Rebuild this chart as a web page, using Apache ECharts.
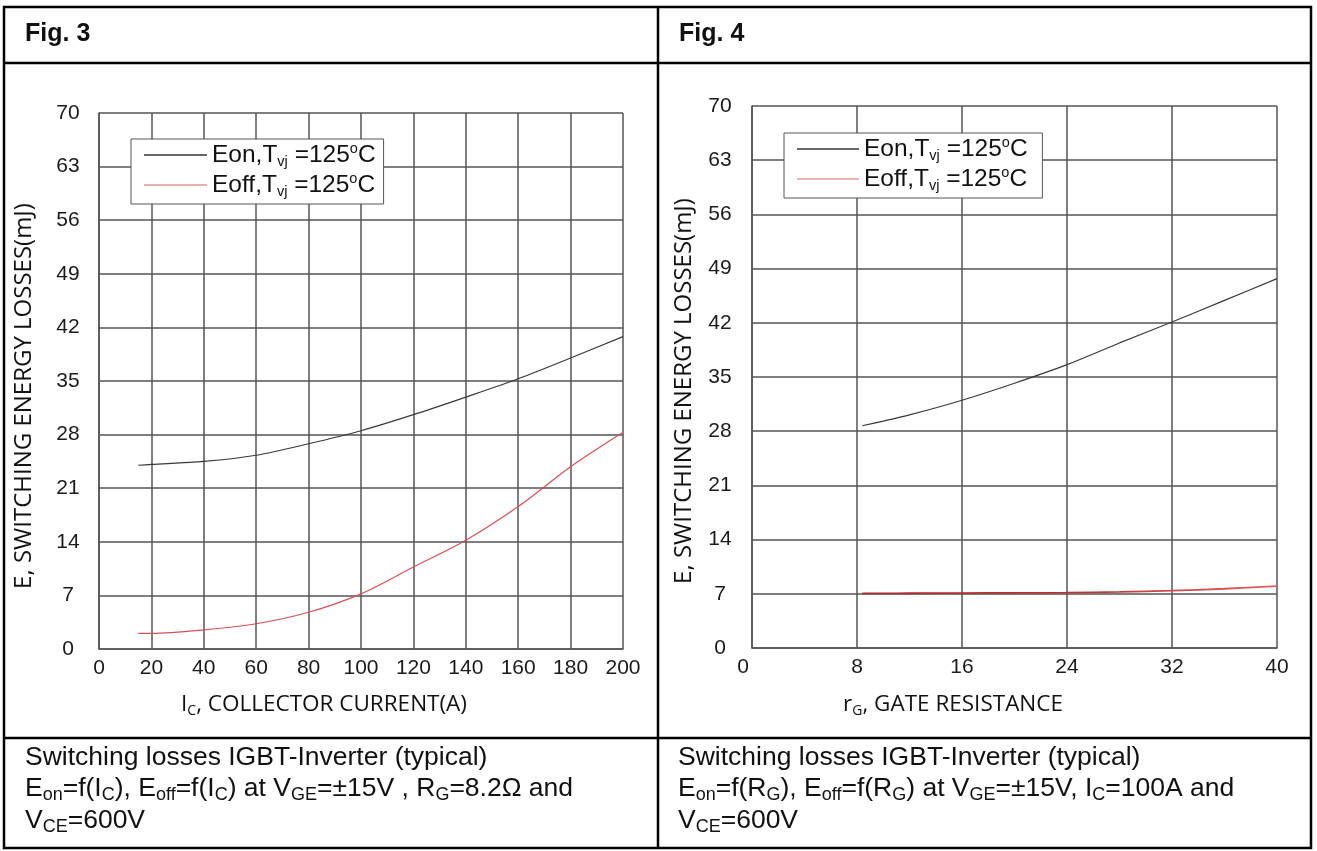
<!DOCTYPE html>
<html>
<head>
<meta charset="utf-8">
<script src="https://cdn.jsdelivr.net/npm/echarts@6/dist/echarts.min.js"></script>
<style>
html,body{margin:0;padding:0;background:#fff;}
#chart{width:1317px;height:851px;}
</style>
</head>
<body>
<div id="chart"></div>
<script>
// ---- Fig. 3 data: switching energy vs collector current ----
var fig3Current = [15, 20, 40, 60, 80, 100, 120, 140, 160, 180, 200];
var fig3Eon     = [24.0, 24.1, 24.5, 25.3, 26.8, 28.5, 30.6, 32.9, 35.3, 38.0, 40.8];
var fig3Eoff    = [2.05, 2.05, 2.5, 3.3, 4.8, 7.2, 10.7, 14.2, 18.6, 23.8, 28.3];
var fig3XTicks  = {min: 0, max: 200, interval: 20};
var fig3YTicks  = {min: 0, max: 70, interval: 7};

// ---- Fig. 4 data: switching energy vs gate resistance ----
var fig4Resistance = [8.4, 10, 12, 16, 20, 24, 28, 32, 36, 40];
var fig4Eon        = [28.7, 29.3, 30.1, 32.0, 34.2, 36.6, 39.4, 42.1, 44.9, 47.7];
var fig4Eoff       = [7.05, 7.05, 7.07, 7.1, 7.12, 7.15, 7.25, 7.4, 7.65, 8.0];
var fig4XTicks     = {min: 0, max: 40, interval: 8};
var fig4YTicks     = {min: 0, max: 70, interval: 7};

var seriesNames = ['Eon,T{sub|vj} =125{sup|o}C', 'Eoff,T{sub|vj} =125{sup|o}C'];

function pairs(xs, ys) { return xs.map(function (x, i) { return [x, ys[i]]; }); }

var ARIAL = "'Liberation Sans', Arial, sans-serif";
var SANS2 = "'Open Sans', 'Noto Sans', sans-serif";
var GRID = '#555';

var legendRich = {
  sub: {fontSize: 14.5, fontFamily: ARIAL, color: '#111', verticalAlign: 'bottom', lineHeight: 14},
  sup: {fontSize: 14.5, fontFamily: ARIAL, color: '#111', verticalAlign: 'top', lineHeight: 14}
};

function xAxis(idx, t, shiftZero) {
  return {
    type: 'value', gridIndex: idx, min: t.min, max: t.max, interval: t.interval,
    axisLine: {show: true, lineStyle: {color: GRID, width: 1.5}},
    axisTick: {show: false},
    splitLine: {show: true, lineStyle: {color: GRID, width: 1.5}},
    axisLabel: {
      fontSize: 21, fontFamily: ARIAL, color: '#1a1a1a', margin: 9,
      formatter: function (v) { return (shiftZero && v === 0) ? '{z|0}' : String(v); },
      rich: {z: {fontSize: 21, fontFamily: ARIAL, color: '#1a1a1a', padding: [0, 18, 0, 0]}}
    }
  };
}
function yAxis(idx, t, margin) {
  return {
    type: 'value', gridIndex: idx, min: t.min, max: t.max, interval: t.interval,
    axisLine: {show: true, lineStyle: {color: GRID, width: 1.5}},
    axisTick: {show: false},
    splitLine: {show: true, lineStyle: {color: GRID, width: 1.5}},
    axisLabel: {fontSize: 21, fontFamily: ARIAL, color: '#1a1a1a', margin: margin, align: 'center'}
  };
}
function legend(left, top, names, itemW) {
  return {
    show: true, orient: 'vertical', left: left, top: top,
    data: names, itemWidth: itemW, itemHeight: 1.3, itemGap: 2,
    icon: 'rect',
    padding: [2, 8, 5, 13],
    borderColor: '#555', borderWidth: 1, backgroundColor: '#fff',
    selectedMode: false,
    textStyle: {fontSize: 24.5, fontFamily: ARIAL, color: '#111', lineHeight: 28, rich: legendRich}
  };
}

function label(x, y, text, opts) {
  opts = opts || {};
  var size = opts.size || 21;
  var sub = opts.sub || Math.round(size * 0.65);
  var fam = opts.family || ARIAL;
  var lh = Math.round(size * 1.15);
  return {
    type: 'text', x: x, y: y, rotation: opts.rotation || 0,
    style: {
      text: text, x: 0, y: 0,
      align: opts.align || 'left', verticalAlign: 'middle',
      fontSize: size, fontFamily: fam, fontWeight: opts.weight || 'normal', fill: '#111',
      lineHeight: lh,
      rich: {
        sub: {fontSize: sub, fontFamily: fam, fill: '#111', verticalAlign: 'bottom', lineHeight: sub}
      }
    },
    z: 100
  };
}

var fig4Red = {type: 'linear', x: 0, y: 0, x2: 1, y2: 0,
  colorStops: [{offset: 0, color: '#a82a2a'}, {offset: 0.5, color: '#b83434'}, {offset: 1, color: '#e06060'}]};

var CAP = 26.5, CAPSUB = 18;

var option = {
  backgroundColor: '#fff',
  animation: false,
  grid: [
    {left: 99, top: 113, width: 524, height: 536},
    {left: 752, top: 106, width: 525, height: 542}
  ],
  xAxis: [xAxis(0, fig3XTicks, false), xAxis(1, fig4XTicks, true)],
  yAxis: [yAxis(0, fig3YTicks, 31), yAxis(1, fig4YTicks, 32)],
  legend: [
    legend(131, 139, [{name: seriesNames[0]}, {name: seriesNames[1]}], 63),
    legend(784, 133, [{name: seriesNames[0] + ' '}, {name: seriesNames[1] + ' '}], 62)
  ],
  series: [
    {name: seriesNames[0], type: 'line', xAxisIndex: 0, yAxisIndex: 0, data: pairs(fig3Current, fig3Eon),
      smooth: 0.3, symbol: 'none', lineStyle: {color: '#383838', width: 1.2}, itemStyle: {color: '#333'}, z: 5},
    {name: seriesNames[1], type: 'line', xAxisIndex: 0, yAxisIndex: 0, data: pairs(fig3Current, fig3Eoff),
      smooth: 0.3, symbol: 'none', lineStyle: {color: '#d2505a', width: 1.2}, itemStyle: {color: '#e3959a'}, z: 5},
    {name: seriesNames[0] + ' ', type: 'line', xAxisIndex: 1, yAxisIndex: 1, data: pairs(fig4Resistance, fig4Eon),
      smooth: 0.3, symbol: 'none', lineStyle: {color: '#383838', width: 1.2}, itemStyle: {color: '#333'}, z: 5},
    {name: seriesNames[1] + ' ', type: 'line', xAxisIndex: 1, yAxisIndex: 1, data: pairs(fig4Resistance, fig4Eoff),
      smooth: 0.3, symbol: 'none', lineStyle: {color: fig4Red, width: 1.8}, itemStyle: {color: '#e59a9a'}, z: 5}
  ],
  graphic: [
    {type: 'rect', shape: {x: 4, y: 7, width: 1307, height: 841}, style: {fill: null, stroke: '#000', lineWidth: 2.5}, z: 90},
    {type: 'line', shape: {x1: 658, y1: 7, x2: 658, y2: 848}, style: {stroke: '#000', lineWidth: 2.5}, z: 90},
    {type: 'line', shape: {x1: 4, y1: 63, x2: 1311, y2: 63}, style: {stroke: '#000', lineWidth: 2.5}, z: 90},
    {type: 'line', shape: {x1: 4, y1: 738, x2: 1311, y2: 738}, style: {stroke: '#000', lineWidth: 2.5}, z: 90},
    label(25, 34, 'Fig. 3', {size: 25, weight: 'bold'}),
    label(679, 34, 'Fig. 4', {size: 25, weight: 'bold'}),
    label(324, 705, 'I{sub|C}, COLLECTOR CURRENT(A)', {size: 22.5, sub: 14, family: SANS2, align: 'center'}),
    label(953, 705, 'r{sub|G}, GATE RESISTANCE', {size: 22.5, sub: 14, family: SANS2, align: 'center'}),
    label(24, 396, 'E, SWITCHING ENERGY LOSSES(mJ)', {size: 24, family: SANS2, align: 'center', rotation: Math.PI / 2}),
    label(684, 391, 'E, SWITCHING ENERGY LOSSES(mJ)', {size: 24, family: SANS2, align: 'center', rotation: Math.PI / 2}),
    label(25, 758, 'Switching losses IGBT-Inverter (typical)', {size: CAP, sub: CAPSUB}),
    label(25, 789, 'E{sub|on}=f(I{sub|C}), E{sub|off}=f(I{sub|C}) at V{sub|GE}=\u00b115V , R{sub|G}=8.2\u03a9 and', {size: CAP, sub: CAPSUB}),
    label(25, 821, 'V{sub|CE}=600V', {size: CAP, sub: CAPSUB}),
    label(678, 758, 'Switching losses IGBT-Inverter (typical)', {size: CAP, sub: CAPSUB}),
    label(678, 789, 'E{sub|on}=f(R{sub|G}), E{sub|off}=f(R{sub|G}) at V{sub|GE}=\u00b115V, I{sub|C}=100A and', {size: CAP, sub: CAPSUB}),
    label(678, 821, 'V{sub|CE}=600V', {size: CAP, sub: CAPSUB})
  ]
};

var chart = echarts.init(document.getElementById('chart'), null, {renderer: 'canvas'});
chart.setOption(option);
</script>
</body>
</html>
